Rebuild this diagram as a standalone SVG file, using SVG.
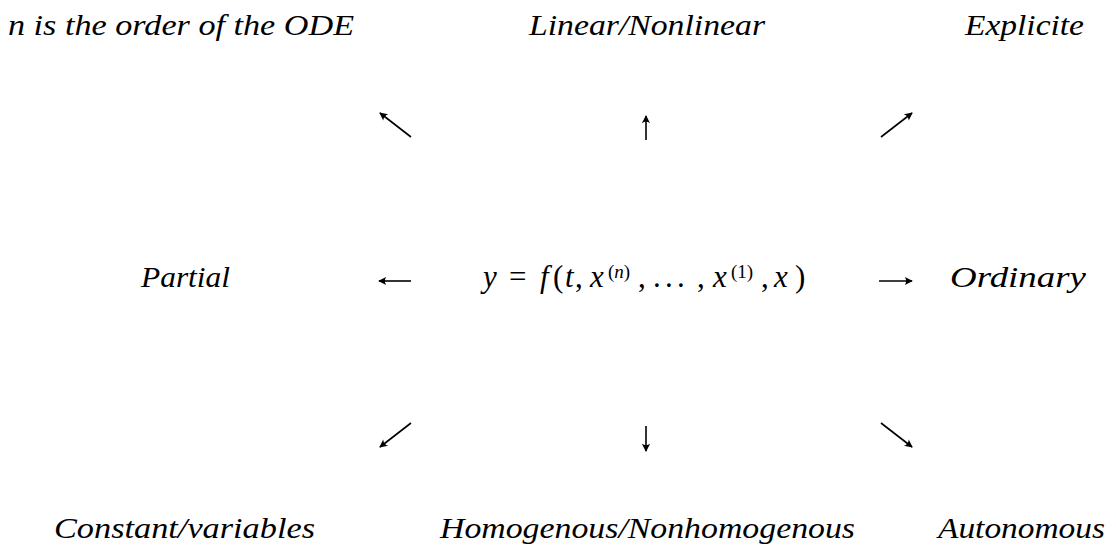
<svg xmlns="http://www.w3.org/2000/svg" width="1116" height="548" viewBox="0 0 1116 548">
<style>
text{font-family:"Liberation Serif","Times New Roman",serif;font-size:30px;fill:#000}
.it{font-style:italic}
.f{font-size:31px}
.sup{font-size:19px}
.ar{stroke:#000;stroke-width:1.6;fill:none;marker-end:url(#ah)}
</style>
<defs>
<marker id="ah" viewBox="0 0 10 10" refX="9" refY="5" markerWidth="9" markerHeight="9" markerUnits="userSpaceOnUse" orient="auto">
<path d="M10,5 L1,0.5 Q4,5 1,9.5 Z" fill="#000"/>
</marker>
</defs>
<rect width="1116" height="548" fill="#fff"/>
<g id="order"><text class="it" x="8" y="35" textLength="346" lengthAdjust="spacingAndGlyphs">n is the order of the ODE</text></g>
<g id="linear"><text class="it" x="529" y="35" textLength="236" lengthAdjust="spacingAndGlyphs">Linear/Nonlinear</text></g>
<g id="explicite"><text class="it" x="965" y="35" textLength="119" lengthAdjust="spacingAndGlyphs">Explicite</text></g>
<g id="partial"><text class="it" x="141" y="287" textLength="89" lengthAdjust="spacingAndGlyphs">Partial</text></g>
<g id="center">
<text class="f it" x="483" y="287">y</text>
<text class="f" x="509" y="287">=</text>
<text class="f it" x="540" y="287">f</text>
<text class="f" x="553" y="287">(</text>
<text class="f it" x="565" y="287">t</text>
<text class="f" x="575" y="287">,</text>
<text class="f it" x="590" y="287">x</text>
<text class="sup" x="608" y="278">(<tspan class="it">n</tspan>)</text>
<text class="f" x="638" y="287">,</text>
<text class="f" x="653" y="287">.</text>
<text class="f" x="665" y="287">.</text>
<text class="f" x="677" y="287">.</text>
<text class="f" x="697" y="287">,</text>
<text class="f it" x="713" y="287">x</text>
<text class="sup" x="731" y="278">(1)</text>
<text class="f" x="761" y="287">,</text>
<text class="f it" x="774" y="287">x</text>
<text class="f" x="795" y="287">)</text>
</g>
<g id="ordinary"><text class="it" x="950" y="287" textLength="136" lengthAdjust="spacingAndGlyphs">Ordinary</text></g>
<g id="constant"><text class="it" x="54" y="538" textLength="261" lengthAdjust="spacingAndGlyphs">Constant/variables</text></g>
<g id="homogenous"><text class="it" x="440" y="538" textLength="415" lengthAdjust="spacingAndGlyphs">Homogenous/Nonhomogenous</text></g>
<g id="autonomous"><text class="it" x="938" y="538" textLength="167" lengthAdjust="spacingAndGlyphs">Autonomous</text></g>
<g id="connectors">
<line class="ar" x1="411" y1="137" x2="380" y2="113"/>
<line class="ar" x1="646" y1="140" x2="646" y2="116"/>
<line class="ar" x1="881" y1="137" x2="912" y2="113"/>
<line class="ar" x1="411" y1="281" x2="379" y2="281"/>
<line class="ar" x1="879" y1="281" x2="912" y2="281"/>
<line class="ar" x1="411" y1="423" x2="380" y2="447"/>
<line class="ar" x1="646" y1="426" x2="646" y2="451"/>
<line class="ar" x1="881" y1="423" x2="912" y2="447"/>
</g>
</svg>
